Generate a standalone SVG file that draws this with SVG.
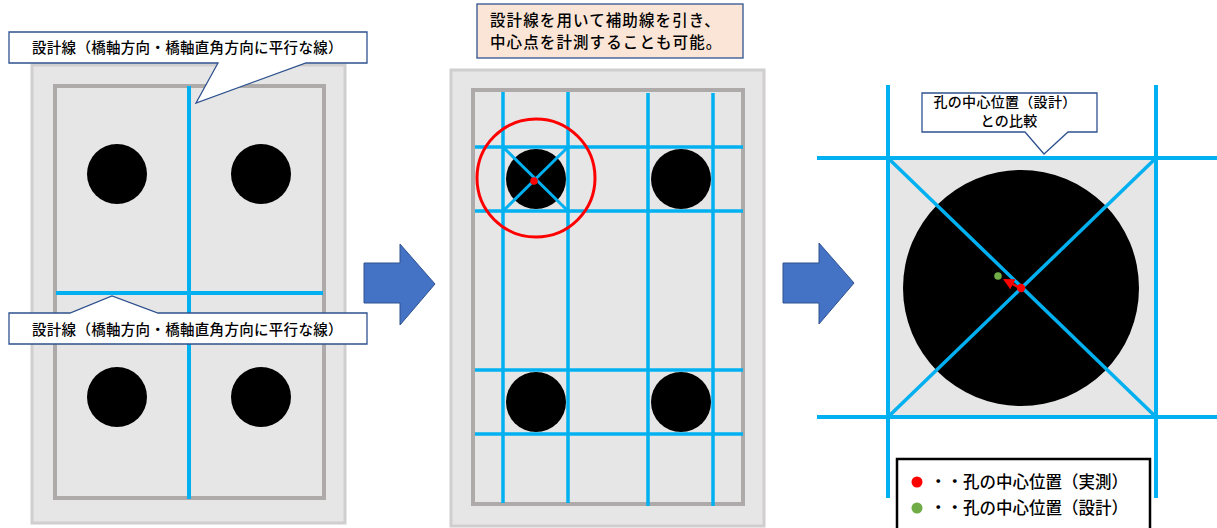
<svg xmlns="http://www.w3.org/2000/svg" width="1217" height="528" viewBox="0 0 1217 528">
<defs>
<style>
.outer{fill:#e7e6e6;stroke:#d0cece;stroke-width:3}
.inner{fill:#e7e6e6;stroke:#aeaaaa;stroke-width:4}
.bl{stroke:#00b0f0;stroke-width:3.5;fill:none}
.hole{fill:#000}
.callout{fill:#fff;stroke:#2f528f;stroke-width:1.3}
.txt{font-family:"Noto Sans CJK JP","Noto Sans CJK SC",sans-serif;fill:#000;font-weight:500}
.arrow{fill:#4472c4;stroke:#2f528f;stroke-width:1}
</style>
<marker id="ah" viewBox="0 0 10 10" refX="8" refY="5" markerWidth="4.5" markerHeight="4.5" orient="auto">
<path d="M0,0 L10,5 L0,10 Z" fill="#ff0000"/>
</marker>
</defs>
<rect width="1217" height="528" fill="#fff"/>

<g id="panel1">
<rect class="outer" x="32" y="65" width="313" height="458"/>
<rect class="inner" x="55" y="86" width="269" height="412"/>
<line class="bl" x1="189" y1="86" x2="189" y2="499" style="stroke-width:4"/>
<line class="bl" x1="56" y1="293" x2="323" y2="293" style="stroke-width:4"/>
<circle class="hole" cx="117" cy="174" r="30"/>
<circle class="hole" cx="261" cy="174" r="30"/>
<circle class="hole" cx="117" cy="397" r="30"/>
<circle class="hole" cx="261" cy="397" r="30"/>
</g>

<g id="callout1">
<path class="callout" d="M9,32 H367 V63 H306 L196,103 L218,63 H9 Z"/>
<text class="txt" x="32" y="53" font-size="14.5" letter-spacing="0.3">設計線（橋軸方向・橋軸直角方向に平行な線）</text>
</g>

<g id="callout2">
<path class="callout" d="M9,313 H70 L112,296 L158,313 H367 V344 H9 Z"/>
<text class="txt" x="32" y="335" font-size="14.5" letter-spacing="0.3">設計線（橋軸方向・橋軸直角方向に平行な線）</text>
</g>

<g id="arrow1">
<polygon class="arrow" points="364,263 400,263 400,244 435,284 400,325 400,303 364,303"/>
</g>

<g id="note">
<rect x="477" y="4" width="266" height="54" fill="#fbe5d6" stroke="#2f528f" stroke-width="1.3"/>
<text class="txt" x="490" y="26" font-size="15.5" letter-spacing="1.1">設計線を用いて補助線を引き、</text>
<text class="txt" x="490" y="48" font-size="15.5" letter-spacing="1.1">中心点を計測することも可能。</text>
</g>

<g id="panel2">
<rect class="outer" x="451" y="70" width="313" height="456"/>
<rect class="inner" x="473" y="90" width="270" height="414"/>
<circle class="hole" cx="536" cy="179" r="30"/>
<circle class="hole" cx="681" cy="179" r="30"/>
<circle class="hole" cx="536" cy="402" r="30"/>
<circle class="hole" cx="681" cy="402" r="30"/>
<line class="bl" x1="503" y1="92" x2="503" y2="503"/>
<line class="bl" x1="568" y1="92" x2="568" y2="503"/>
<line class="bl" x1="648" y1="93" x2="648" y2="506"/>
<line class="bl" x1="713" y1="93" x2="713" y2="506"/>
<line class="bl" x1="475" y1="147" x2="743" y2="147"/>
<line class="bl" x1="475" y1="211" x2="743" y2="211"/>
<line class="bl" x1="475" y1="370" x2="743" y2="370"/>
<line class="bl" x1="475" y1="434" x2="743" y2="434"/>
<line class="bl" x1="503" y1="147" x2="568" y2="211" style="stroke-width:3"/>
<line class="bl" x1="568" y1="147" x2="503" y2="211" style="stroke-width:3"/>
<circle cx="534" cy="181" r="3.8" fill="#ff0000"/>
<circle cx="536" cy="178" r="59" fill="none" stroke="#ff0000" stroke-width="3"/>
</g>

<g id="arrow2">
<polygon class="arrow" points="783,263 819,263 819,243 854,283 819,324 819,303 783,303"/>
</g>

<g id="panel3">
<rect x="888" y="158" width="268" height="259" fill="#e7e6e6"/>
<circle class="hole" cx="1021" cy="288" r="118"/>
<line class="bl" x1="888" y1="85" x2="888" y2="498" style="stroke-width:4"/>
<line class="bl" x1="1156" y1="85" x2="1156" y2="498" style="stroke-width:4"/>
<line class="bl" x1="817" y1="158" x2="1217" y2="158" style="stroke-width:4"/>
<line class="bl" x1="817" y1="417" x2="1217" y2="417" style="stroke-width:4"/>
<line class="bl" x1="888" y1="158" x2="1156" y2="417" style="stroke-width:3.5"/>
<line class="bl" x1="1156" y1="158" x2="888" y2="417" style="stroke-width:3.5"/>
<circle cx="998" cy="276" r="3.8" fill="#70ad47"/>
<line x1="1018" y1="287" x2="1005" y2="280" stroke="#ff0000" stroke-width="2.5" marker-end="url(#ah)"/>
<circle cx="1021" cy="288" r="4.2" fill="#ff0000"/>
</g>

<g id="callout3">
<path class="callout" d="M922,93 H1097 V132 H1068 L1044,154 L1025,132 H922 Z"/>
<text class="txt" x="1005" y="107" font-size="14" text-anchor="middle" letter-spacing="0.3">孔の中心位置（設計）</text>
<text class="txt" x="1009" y="126" font-size="14" text-anchor="middle" letter-spacing="0.3">との比較</text>
</g>

<g id="legend">
<rect x="897" y="459" width="253" height="75" fill="#fff" stroke="#000" stroke-width="2.5"/>
<circle cx="917" cy="482" r="5.5" fill="#ff0000"/>
<circle cx="917" cy="508" r="5.5" fill="#70ad47"/>
<text class="txt" x="930" y="488" font-size="16.5">・・孔の中心位置（実測）</text>
<text class="txt" x="930" y="514" font-size="16.5">・・孔の中心位置（設計）</text>
</g>
</svg>
